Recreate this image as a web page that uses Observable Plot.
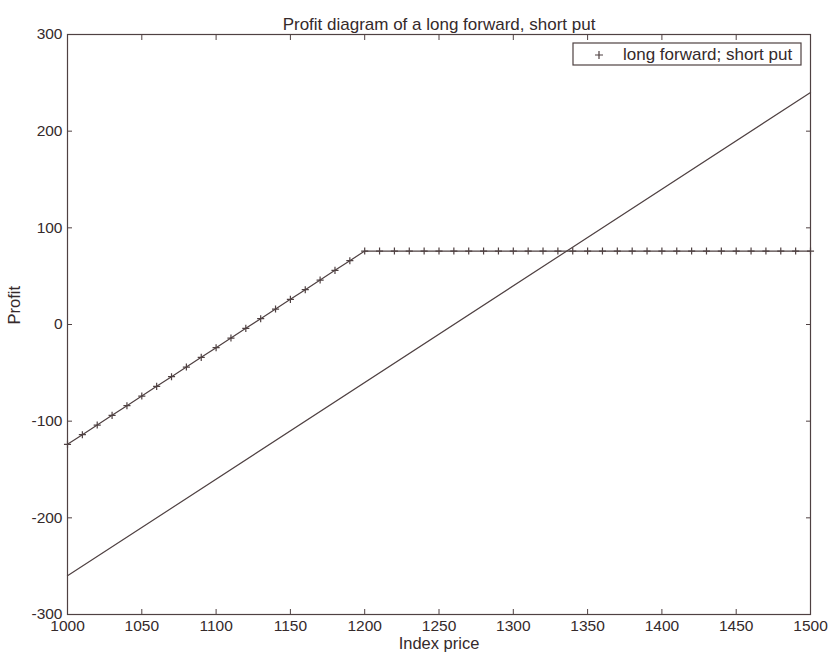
<!DOCTYPE html>
<html>
<head>
<meta charset="utf-8">
<script src="https://cdn.jsdelivr.net/npm/d3@7"></script>
<script src="https://cdn.jsdelivr.net/npm/@observablehq/plot@0.6"></script>
<style>
  html, body { margin: 0; padding: 0; background: #ffffff; }
  #chart { width: 830px; height: 657px; }
</style>
</head>
<body>
<div id="chart"></div>
<script>
// ---- Data ----
const titleText = "Profit diagram of a long forward, short put";
const xLabel = "Index price";
const yLabel = "Profit";
const legendLabel = "long forward; short put";

const xTicks = [1000, 1050, 1100, 1150, 1200, 1250, 1300, 1350, 1400, 1450, 1500];
const yTicks = [-300, -200, -100, 0, 100, 200, 300];

// long forward (plain line)
const forwardPrice = [1000, 1500];
const forwardProfit = [-260, 240];

// long forward; short put combination (line with + markers)
const comboPrice = [1000, 1010, 1020, 1030, 1040, 1050, 1060, 1070, 1080, 1090,
  1100, 1110, 1120, 1130, 1140, 1150, 1160, 1170, 1180, 1190,
  1200, 1210, 1220, 1230, 1240, 1250, 1260, 1270, 1280, 1290,
  1300, 1310, 1320, 1330, 1340, 1350, 1360, 1370, 1380, 1390,
  1400, 1410, 1420, 1430, 1440, 1450, 1460, 1470, 1480, 1490, 1500];
const comboProfit = [-124, -114, -104, -94, -84, -74, -64, -54, -44, -34,
  -24, -14, -4, 6, 16, 26, 36, 46, 56, 66,
  76, 76, 76, 76, 76, 76, 76, 76, 76, 76,
  76, 76, 76, 76, 76, 76, 76, 76, 76, 76,
  76, 76, 76, 76, 76, 76, 76, 76, 76, 76, 76];

const forward = forwardPrice.map((x, i) => ({x, y: forwardProfit[i]}));
const combo = comboPrice.map((x, i) => ({x, y: comboProfit[i]}));

// ---- Style ----
const lineColor = "#4f4142";
const textColor = "#352a2b";
const font = "Liberation Sans, Arial, Helvetica, sans-serif";

const plusSymbol = {
  draw(context, size) {
    const r = Math.sqrt(size) / 2;
    context.moveTo(-r, 0); context.lineTo(r, 0);
    context.moveTo(0, -r); context.lineTo(0, r);
  }
};

const fmt = d => String(d);

const plot = Plot.plot({
  width: 830,
  height: 657,
  marginLeft: 67,
  marginRight: 20,
  marginTop: 34,
  marginBottom: 43,
  style: {fontFamily: font, fontSize: "16px", color: textColor, background: "#ffffff"},
  x: {domain: [1000, 1500]},
  y: {domain: [-300, 300]},
  marks: [
    Plot.frame({stroke: lineColor, strokeWidth: 1.2}),
    // inward ticks on all four sides
    Plot.axisX(xTicks, {anchor: "bottom", tickSize: 5, dy: -5, fill: "none", label: null, stroke: lineColor}),
    Plot.axisX(xTicks, {anchor: "top", tickSize: 5, dy: 5, fill: "none", label: null, stroke: lineColor}),
    Plot.axisY(yTicks, {anchor: "left", tickSize: 5, dx: 5, fill: "none", label: null, stroke: lineColor}),
    Plot.axisY(yTicks, {anchor: "right", tickSize: 5, dx: -5, fill: "none", label: null, stroke: lineColor}),
    // tick labels
    Plot.axisX(xTicks, {anchor: "bottom", tickSize: 0, tickPadding: 5, tickFormat: fmt, fill: textColor, label: null, fontSize: 15.5, stroke: "none"}),
    Plot.axisY(yTicks, {anchor: "left", tickSize: 0, tickPadding: 5, tickFormat: fmt, fill: textColor, label: null, fontSize: 15.5, stroke: "none"}),
    // data
    Plot.line(forward, {x: "x", y: "y", stroke: lineColor, strokeWidth: 1.2}),
    Plot.line(combo, {x: "x", y: "y", stroke: lineColor, strokeWidth: 1.2}),
    Plot.dot(combo, {x: "x", y: "y", symbol: plusSymbol, r: 4, stroke: lineColor, strokeWidth: 1.2, fill: "none"}),
    // titles
    Plot.text([titleText], {text: d => d, frameAnchor: "top", dy: -17, fontSize: 17, fill: textColor}),
    Plot.text([xLabel], {text: d => d, frameAnchor: "bottom", dy: 34, fontSize: 16.5, fill: textColor}),
    Plot.text([yLabel], {text: d => d, frameAnchor: "left", dx: -53, rotate: -90, fontSize: 16.5, fill: textColor})
  ]
});

document.getElementById("chart").appendChild(plot);

// ---- Legend box (top-right, inside the axes) ----
const svg = d3.select(plot);
const lg = svg.append("g").attr("class", "legend");
lg.append("rect")
  .attr("x", 573).attr("y", 43).attr("width", 228).attr("height", 22)
  .attr("fill", "#ffffff").attr("stroke", lineColor).attr("stroke-width", 1.2);
lg.append("path")
  .attr("d", "M595,55H603M599,51V59")
  .attr("stroke", lineColor).attr("stroke-width", 1.2).attr("fill", "none");
lg.append("text")
  .attr("x", 623).attr("y", 55).attr("dy", "0.32em")
  .attr("text-anchor", "start")
  .attr("fill", textColor).attr("font-size", 17).attr("font-family", font)
  .text(legendLabel);
</script>
</body>
</html>
